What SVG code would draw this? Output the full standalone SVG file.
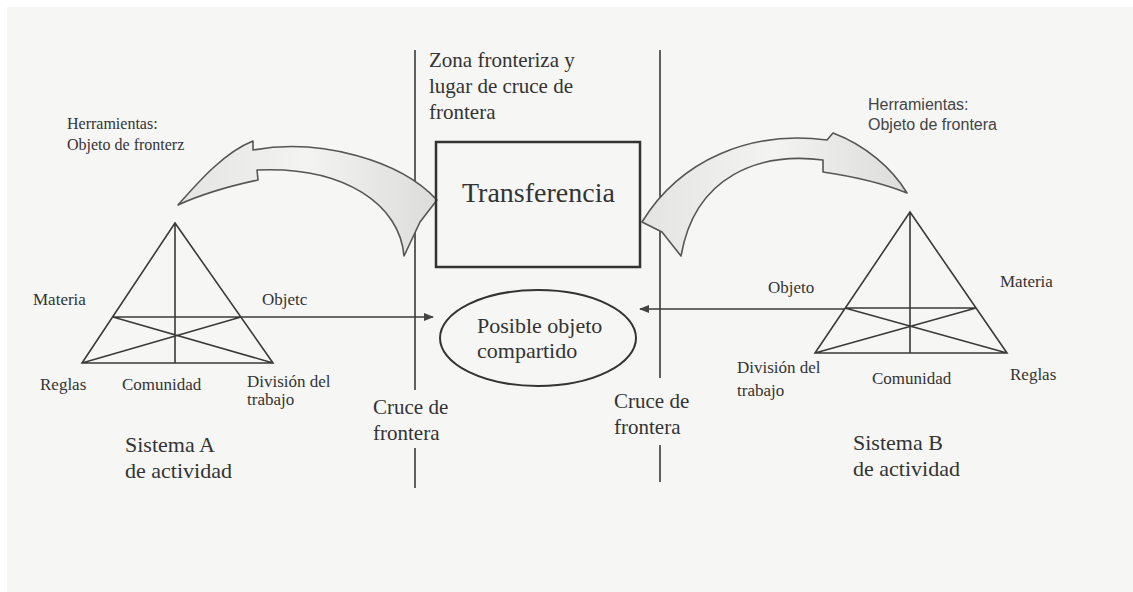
<svg xmlns="http://www.w3.org/2000/svg" width="1133" height="592" viewBox="0 0 1133 592">
<defs>
<style>
.t{font-family:"Liberation Serif","Times New Roman",serif;fill:#333;}
.s{font-family:"Liberation Sans",Arial,sans-serif;fill:#444;}
.ln{stroke:#3a3a3a;stroke-width:1.6;fill:none;}
.arc{fill:url(#g);stroke:#555;stroke-width:1.6;stroke-linejoin:round;}
</style>
<linearGradient id="g" x1="0" y1="0" x2="1" y2="0">
<stop offset="0" stop-color="#e4e4e2"/>
<stop offset="0.5" stop-color="#f3f3f1"/>
<stop offset="1" stop-color="#dcdcda"/>
</linearGradient>
<marker id="ah" markerWidth="10" markerHeight="8" refX="9" refY="4" orient="auto" markerUnits="userSpaceOnUse">
<path d="M0,0 L10,4 L0,8 Z" fill="#444"/>
</marker>
</defs>
<rect x="0" y="0" width="1133" height="592" fill="#ffffff"/>
<rect x="7" y="7" width="1126" height="585" fill="#f6f6f4"/>

<g id="borders">
<line class="ln" x1="415" y1="50" x2="415" y2="390"/>
<line class="ln" x1="415" y1="448" x2="415" y2="488"/>
<line class="ln" x1="660" y1="50" x2="660" y2="378"/>
<line class="ln" x1="660" y1="445" x2="660" y2="482"/>
<text class="t" font-size="21"><tspan x="429" y="67">Zona  fronteriza y</tspan><tspan x="429" y="93">lugar de cruce de</tspan><tspan x="429" y="119">frontera</tspan></text>
<text class="t" font-size="21"><tspan x="373" y="414">Cruce de</tspan><tspan x="373" y="440">frontera</tspan></text>
<text class="t" font-size="21"><tspan x="614" y="408">Cruce de</tspan><tspan x="614" y="434">frontera</tspan></text>
</g>

<g id="tool-arrow-left">
<path class="arc" d="M437,200 L420,222 L404,256 C400,205 345,166 257,170 L258,180 C230,186 200,195 178,205 C200,180 225,152 253,141 L253,150 C320,138 400,160 437,200 Z"/>
<text class="t" font-size="16"><tspan x="67" y="129">Herramientas:</tspan><tspan x="67" y="150">Objeto de fronterz</tspan></text>
</g>

<g id="tool-arrow-right">
<path class="arc" d="M642,222 C680,160 750,130 827,140 L833,133 C865,145 892,168 907,193 C880,182 850,176 823,172 L823,160 C760,152 695,175 681,256 L662,232 Z"/>
<text class="s" font-size="16"><tspan x="868" y="110">Herramientas:</tspan><tspan x="868" y="130">Objeto de frontera</tspan></text>
</g>

<g id="transferencia">
<rect x="436" y="142" width="204" height="125" fill="none" stroke="#333" stroke-width="2.5"/>
<text class="t" font-size="28" x="462" y="202">Transferencia</text>
</g>

<g id="shared-object">
<ellipse cx="538" cy="338" rx="98" ry="48" fill="none" stroke="#333" stroke-width="2"/>
<text class="t" font-size="22"><tspan x="477" y="333">Posible objeto</tspan><tspan x="477" y="358">compartido</tspan></text>
</g>

<g id="system-a">
<path class="ln" d="M175,223 L82,363 L273,363 Z M175,223 L175,363 M113,317 L241,317 M113,317 L273,363 M241,317 L82,363"/>
<text class="t" font-size="17" x="33" y="305">Materia</text>
<text class="t" font-size="17" x="262" y="305">Objetc</text>
<text class="t" font-size="17" x="40" y="390">Reglas</text>
<text class="t" font-size="17" x="122" y="390">Comunidad</text>
<text class="t" font-size="17"><tspan x="247" y="387">División del</tspan><tspan x="247" y="405">trabajo</tspan></text>
<text class="t" font-size="22"><tspan x="125" y="452">Sistema A</tspan><tspan x="125" y="478">de actividad</tspan></text>
</g>

<g id="system-b">
<path class="ln" d="M910,212 L815,353 L1007,353 Z M910,212 L910,353 M845,308 L976,308 M845,308 L1007,353 M976,308 L815,353"/>
<text class="t" font-size="17" x="768" y="293">Objeto</text>
<text class="t" font-size="17" x="1000" y="287">Materia</text>
<text class="t" font-size="17"><tspan x="737" y="373">División del</tspan><tspan x="737" y="396">trabajo</tspan></text>
<text class="t" font-size="17" x="872" y="384">Comunidad</text>
<text class="t" font-size="17" x="1010" y="380">Reglas</text>
<text class="t" font-size="22"><tspan x="853" y="450">Sistema B</tspan><tspan x="853" y="476">de actividad</tspan></text>
</g>

<g id="connectors">
<line class="ln" x1="241" y1="317" x2="433" y2="317" marker-end="url(#ah)"/>
<line class="ln" x1="845" y1="309" x2="640" y2="309" marker-end="url(#ah)"/>
</g>
</svg>
